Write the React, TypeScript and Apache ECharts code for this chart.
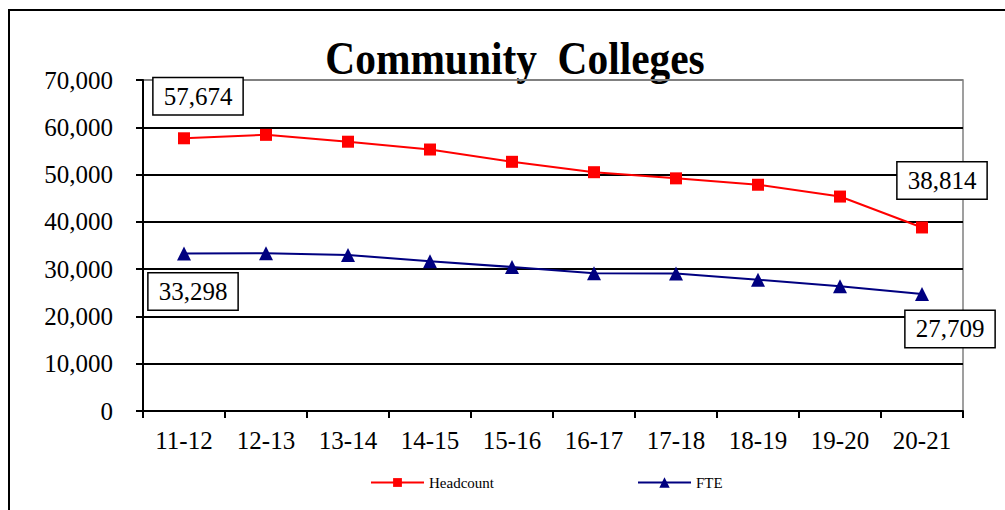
import React, { useEffect, useRef } from "react";
import * as echarts from "echarts";

const categories = ["11-12", "12-13", "13-14", "14-15", "15-16", "16-17", "17-18", "18-19", "19-20", "20-21"];
const headcount = [57674, 58400, 56950, 55300, 52700, 50500, 49200, 47850, 45350, 38814];
const fte = [33298, 33350, 33000, 31650, 30450, 29150, 29100, 27750, 26400, 24750];
const yTicks = [0, 10000, 20000, 30000, 40000, 50000, 60000, 70000];
const headcountLabels: Record<number, string> = { 0: "57,674", 9: "38,814" };
const fteLabels: Record<number, string> = { 0: "33,298", 9: "27,709" };
const titleText = "Community  Colleges";

const SERIF = "Liberation Serif";

const labelOffsets: Record<string, [number, number]> = {
  h0: [14, -42],
  h9: [20, -47],
  f0: [9, 38],
  f9: [28, 35],
};

function boxLabel(text: string, offset: [number, number]) {
  return {
    show: true,
    position: "inside",
    offset,
    formatter: text,
    fontFamily: SERIF,
    fontSize: 25,
    color: "#000",
    backgroundColor: "#fff",
    borderColor: "#000",
    borderWidth: 1.5,
    padding: [7, 10, 4, 10],
    align: "center",
    verticalAlign: "middle",
  };
}

export default function App() {
  const ref = useRef<HTMLDivElement>(null);
  useEffect(() => {
    if (!ref.current) return;
    const chart = echarts.init(ref.current, null, { renderer: "svg" });
    const hData = headcount.map((v, i) =>
      headcountLabels[i] ? { value: v, label: boxLabel(headcountLabels[i], labelOffsets["h" + i]) } : v
    );
    const fData = fte.map((v, i) =>
      fteLabels[i] ? { value: v, label: boxLabel(fteLabels[i], labelOffsets["f" + i]) } : v
    );
    const gridColors = yTicks.map((t, i) => (i === yTicks.length - 1 ? "#808080" : "#000"));
    chart.setOption({
      animation: false,
      backgroundColor: "#fff",
      graphic: [
        {
          type: "rect",
          shape: { x: 9, y: 10, width: 1010, height: 520 },
          style: { fill: "none", stroke: "#000", lineWidth: 2 },
          silent: true,
        },
        {
          type: "text",
          x: 515,
          y: 58,
          scaleX: 0.9,
          style: {
            text: titleText,
            fontFamily: SERIF,
            fontWeight: "bold",
            fontSize: 46,
            fill: "#000",
            textAlign: "center",
            textVerticalAlign: "middle",
          },
          silent: true,
        },
      ],
      grid: {
        left: 143,
        right: 42,
        top: 80,
        bottom: 99,
        show: true,
        borderColor: "#808080",
        borderWidth: 1.5,
        backgroundColor: "transparent",
      },
      legend: [
        {
          data: ["Headcount"],
          left: 370,
          top: 475,
          padding: 0,
          itemWidth: 53,
          itemHeight: 11,
          itemGap: 6,
          textStyle: { fontFamily: SERIF, fontSize: 15, color: "#000" },
        },
        {
          data: ["FTE"],
          left: 637,
          top: 475,
          padding: 0,
          itemWidth: 53,
          itemHeight: 13,
          itemGap: 6,
          textStyle: { fontFamily: SERIF, fontSize: 15, color: "#000" },
        },
      ],
      xAxis: {
        type: "category",
        data: categories,
        boundaryGap: true,
        axisLine: { lineStyle: { color: "#000", width: 2 } },
        axisTick: { show: true, length: 7, lineStyle: { color: "#000", width: 2 } },
        axisLabel: { fontFamily: SERIF, fontSize: 25, color: "#000", margin: 17 },
      },
      yAxis: {
        type: "value",
        min: 0,
        max: 70000,
        interval: 10000,
        axisLine: { show: true, lineStyle: { color: "#000", width: 2 } },
        axisTick: { show: true, length: 7, lineStyle: { color: "#000", width: 2 } },
        axisLabel: {
          fontFamily: SERIF,
          fontSize: 25,
          color: "#000",
          margin: 30,
          formatter: (v: number) => v.toLocaleString("en-US"),
        },
        splitLine: { show: true, lineStyle: { color: gridColors, width: 1.8 } },
      },
      series: [
        {
          name: "Headcount",
          type: "line",
          data: hData,
          symbol: "rect",
          symbolSize: 12,
          itemStyle: { color: "#ff0000" },
          lineStyle: { color: "#ff0000", width: 2 },
          z: 3,
        },
        {
          name: "FTE",
          type: "line",
          data: fData,
          symbol: "triangle",
          symbolSize: 14,
          itemStyle: { color: "#000080" },
          lineStyle: { color: "#000080", width: 2 },
          z: 3,
        },
      ],
    });
    return () => chart.dispose();
  }, []);
  return (
    <div
      ref={ref}
      style={{ position: "absolute", left: 0, top: 0, width: 1005, height: 510 }}
    />
  );
}
